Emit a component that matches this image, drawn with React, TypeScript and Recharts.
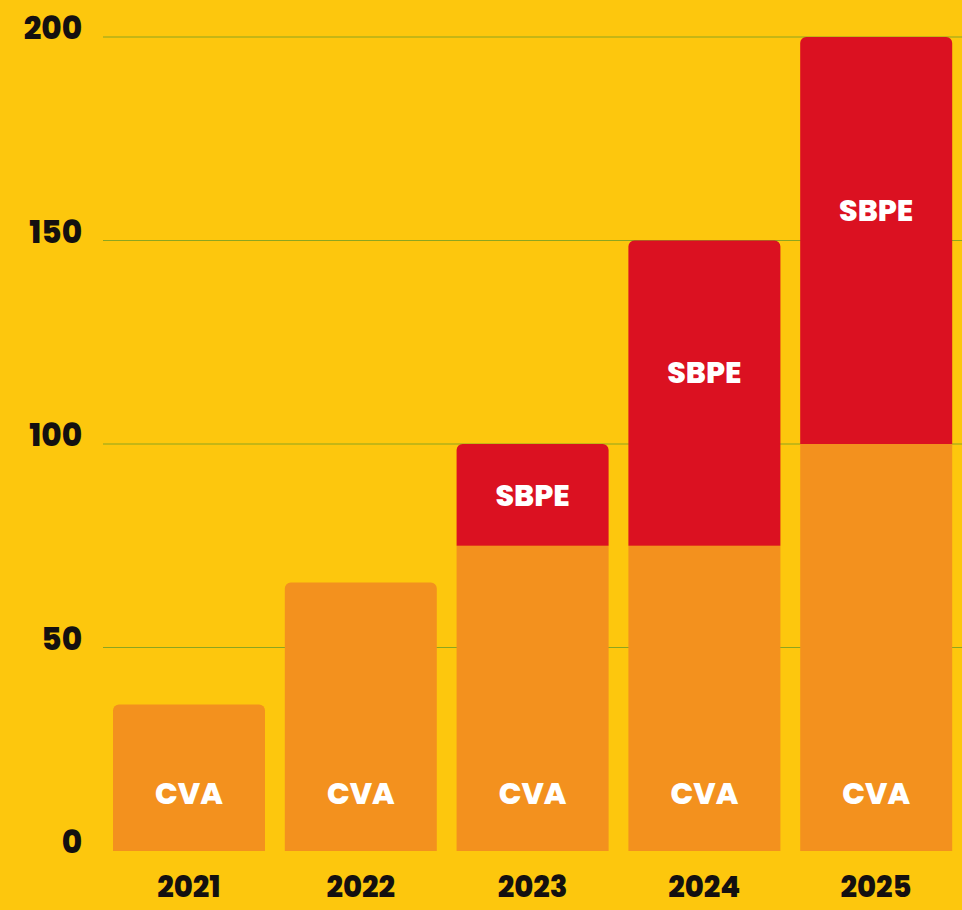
import React from "react";
import { BarChart, Bar, XAxis, YAxis, CartesianGrid, LabelList, Rectangle } from "recharts";

const years = ["2021", "2022", "2023", "2024", "2025"];
const cva = [36, 66, 75, 75, 100];
const sbpe = [null, null, 25, 75, 100];
const yTicks = [0, 50, 100, 150, 200];

const data = years.map((year, i) => ({ year, cva: cva[i], sbpe: sbpe[i] }));

const FONT = "Poppins, Inter, 'Open Sans', sans-serif";
const BG = "#FDC70D";
const ORANGE = "#F3911E";
const RED = "#DB1121";

function YTick({ x, y, payload }: any) {
  return (
    <text x={x} y={y} dy={2} textAnchor="end" fill="#141010" fontSize={31} fontWeight={800} fontFamily={FONT}>
      {payload.value}
    </text>
  );
}

function XTick({ x, y, payload }: any) {
  return (
    <text x={x} y={y} dy="0.71em" textAnchor="middle" fill="#141010" fontSize={29} fontWeight={800} fontFamily={FONT}>
      {payload.value}
    </text>
  );
}

// CVA only gets rounded corners when nothing sits on top of it
function CvaShape(props: any) {
  const hasTop = props.payload && props.payload.sbpe != null;
  return <Rectangle {...props} radius={hasTop ? 0 : [6, 6, 0, 0]} />;
}

function CvaLabel({ x, y, width, height }: any) {
  return (
    <text x={x + width / 2} y={y + height - 58} dy="0.36em" textAnchor="middle" fill="#fff" fontSize={30} fontWeight={800} fontFamily={FONT}>
      CVA
    </text>
  );
}

function SbpeLabel({ x, y, width, height, value }: any) {
  if (value == null) return null;
  // tall segments carry their label a bit above the middle
  const off = height / 2 - Math.max(0, height - 100) * 0.1;
  return (
    <text x={x + width / 2} y={y + off} dy="0.36em" textAnchor="middle" fill="#fff" fontSize={30} fontWeight={800} fontFamily={FONT}>
      SBPE
    </text>
  );
}

export default function App() {
  return (
    <div style={{ position: "absolute", left: 0, top: 0, width: 962, height: 910, background: BG }}>
      <BarChart
        width={962}
        height={910}
        data={data}
        margin={{ top: 37, right: 0, bottom: 0, left: 0 }}
        barCategoryGap={10}
      >
        <CartesianGrid vertical={false} horizontalValues={[50, 100, 150, 200]} stroke="#8DA51F" strokeWidth={1.2} />
        <XAxis dataKey="year" axisLine={false} tickLine={false} height={59} tickMargin={19} tick={<XTick />} interval={0} />
        <YAxis domain={[0, 200]} ticks={yTicks} axisLine={false} tickLine={false} width={103} tickMargin={15} tick={<YTick />} />
        <Bar dataKey="cva" stackId="a" fill={ORANGE} shape={<CvaShape />} isAnimationActive={false}>
          <LabelList dataKey="cva" content={<CvaLabel />} />
        </Bar>
        <Bar dataKey="sbpe" stackId="a" fill={RED} radius={[6, 6, 0, 0]} isAnimationActive={false}>
          <LabelList dataKey="sbpe" content={<SbpeLabel />} />
        </Bar>
      </BarChart>
    </div>
  );
}
